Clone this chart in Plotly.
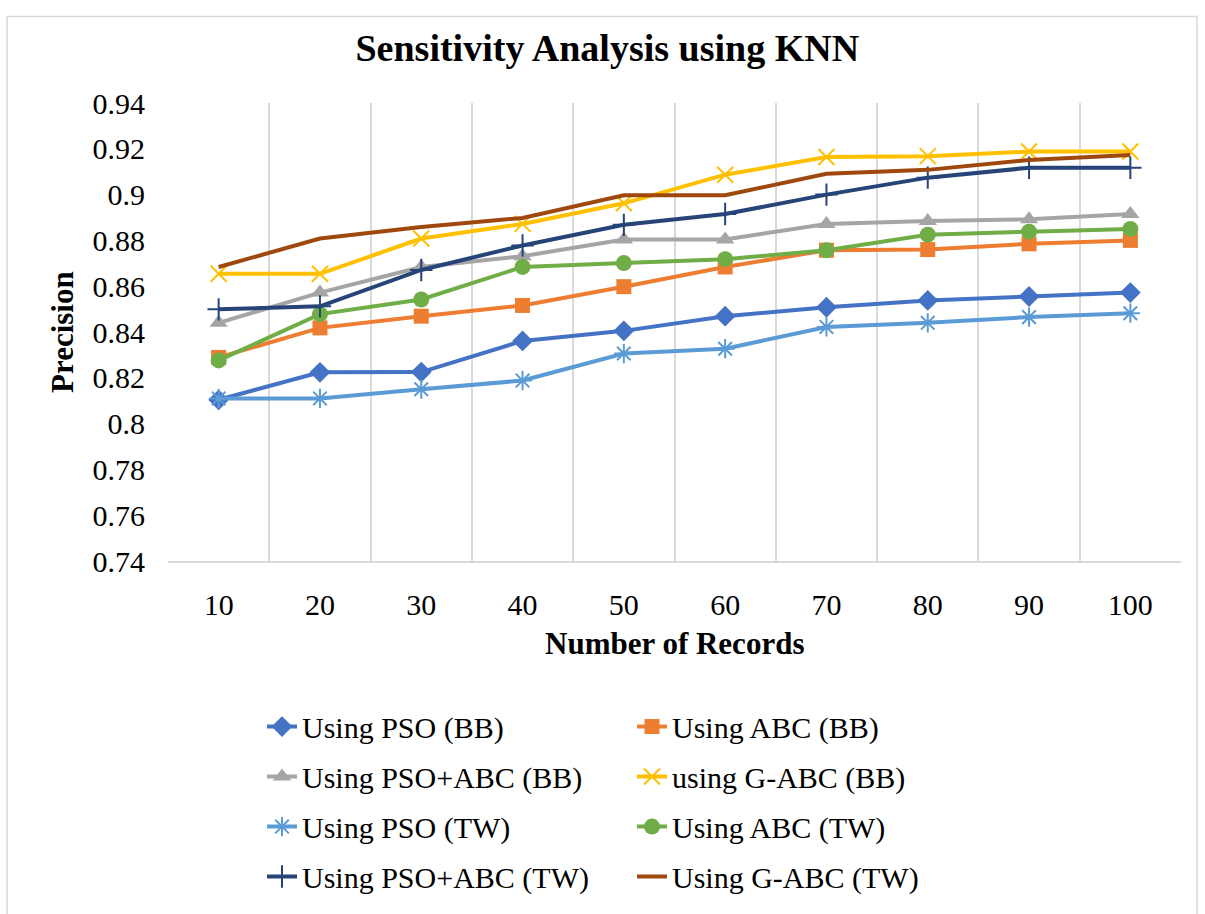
import plotly.graph_objects as go

records = ["10", "20", "30", "40", "50", "60", "70", "80", "90", "100"]

pso_bb = [0.8104, 0.8224, 0.8225, 0.8361, 0.8405, 0.8469, 0.8508, 0.8538, 0.8555, 0.8572]
abc_bb = [0.8289, 0.8418, 0.8469, 0.8516, 0.8598, 0.8684, 0.8757, 0.8760, 0.8785, 0.8800]
psoabc_bb = [0.8440, 0.8572, 0.8684, 0.8731, 0.8804, 0.8804, 0.8872, 0.8885, 0.8892, 0.8915]
gabc_bb = [0.8654, 0.8654, 0.8808, 0.8872, 0.8962, 0.9087, 0.9164, 0.9168, 0.9188, 0.9188]
pso_tw = [0.8110, 0.8110, 0.8150, 0.8188, 0.8306, 0.8327, 0.8422, 0.8440, 0.8465, 0.8482]
abc_tw = [0.8276, 0.8478, 0.8542, 0.8684, 0.8701, 0.8718, 0.8757, 0.8825, 0.8838, 0.8850]
psoabc_tw = [0.8499, 0.8512, 0.8671, 0.8778, 0.8868, 0.8915, 0.9000, 0.9074, 0.9117, 0.9117]
gabc_tw = [0.8684, 0.8808, 0.8859, 0.8898, 0.8997, 0.8997, 0.9091, 0.9108, 0.9151, 0.9173]

y_ticks = [0.74, 0.76, 0.78, 0.80, 0.82, 0.84, 0.86, 0.88, 0.90, 0.92, 0.94]
y_tick_labels = ["0.74", "0.76", "0.78", "0.8", "0.82", "0.84", "0.86", "0.88", "0.9", "0.92", "0.94"]

FONT = "Liberation Serif, Times New Roman, serif"

W, H = 1205, 914
L, R, T, B = 168, 1181, 103, 569


def px_x(p):
    return (p - L) / (R - L)


def px_y(p):
    return (B - p) / (B - T)


series = [
    ("Using PSO (BB)", pso_bb, "#4472C4", "diamond", "legend"),
    ("Using ABC (BB)", abc_bb, "#ED7D31", "square", "legend2"),
    ("Using PSO+ABC (BB)", psoabc_bb, "#A5A5A5", "triangle-up", "legend"),
    ("using G-ABC (BB)", gabc_bb, "#FFC000", "x-thin-open", "legend2"),
    ("Using PSO (TW)", pso_tw, "#5B9BD5", "asterisk-open", "legend"),
    ("Using ABC (TW)", abc_tw, "#70AD47", "circle", "legend2"),
    ("Using PSO+ABC (TW)", psoabc_tw, "#264478", "cross-thin-open", "legend"),
    ("Using G-ABC (TW)", gabc_tw, "#9E480E", None, "legend2"),
]

fig = go.Figure()
for i, (name, vals, color, sym, leg) in enumerate(series):
    if sym is None:
        fig.add_trace(go.Scatter(
            x=records, y=vals, name=name, mode="lines",
            line=dict(color=color, width=4), legend=leg, legendgroup=f"g{i}",
        ))
    else:
        is_open = sym.endswith("-open")
        marker = dict(symbol=sym, size=16, color=color,
                      line=dict(width=2 if is_open else 0, color=color))
        if sym == "square":
            marker["size"] = 15
        fig.add_trace(go.Scatter(
            x=records, y=vals, name=name, mode="lines+markers",
            line=dict(color=color, width=4), marker=marker,
            legend=leg, legendgroup=f"g{i}",
        ))

legend_common = dict(
    orientation="v", font=dict(family=FONT, size=30, color="#000000"),
    bgcolor="rgba(0,0,0,0)", borderwidth=0, tracegroupgap=8,
    xanchor="left", yanchor="top", traceorder="grouped",
)

fig.update_layout(
    width=W, height=H,
    margin=dict(l=L, r=W - R, t=T, b=H - B),
    paper_bgcolor="white", plot_bgcolor="white",
    showlegend=True,
    font=dict(family=FONT, color="#000000"),
    title=dict(text="<b>Sensitivity Analysis using KNN</b>", x=0.504, xref="container",
               xanchor="center", y=1 - 48 / H, yref="container", yanchor="middle",
               font=dict(family=FONT, size=38, color="#000000")),
    xaxis=dict(type="category", range=[-0.5, len(records) - 0.5], tickson="boundaries",
               showgrid=True, gridcolor="#D9D9D9", gridwidth=2,
               showline=True, linecolor="#D9D9D9", linewidth=2,
               ticks="", ticklabelstandoff=16,
               tickfont=dict(family=FONT, size=30, color="#000000"), zeroline=False),
    yaxis=dict(range=[0.74, 0.94], tickvals=y_ticks, ticktext=y_tick_labels,
               showgrid=False, showline=False, zeroline=False, ticks="",
               ticklabelstandoff=22,
               tickfont=dict(family=FONT, size=30, color="#000000")),
    legend=dict(x=px_x(262), y=px_y(711), **legend_common),
    legend2=dict(x=px_x(632), y=px_y(711), **legend_common),
    annotations=[
        dict(text="<b>Precision</b>", textangle=-90, xref="paper", yref="paper",
             x=px_x(62), y=0.5, xanchor="center", yanchor="middle", showarrow=False,
             font=dict(family=FONT, size=31, color="#000000")),
        dict(text="<b>Number of Records</b>", xref="paper", yref="paper",
             x=0.5, y=px_y(653), xanchor="center", yanchor="middle", showarrow=False,
             font=dict(family=FONT, size=31, color="#000000")),
    ],
    shapes=[
        dict(type="rect", xref="paper", yref="paper",
             x0=px_x(7), x1=px_x(1197), y0=px_y(930), y1=px_y(15),
             line=dict(color="#D9D9D9", width=1.5), fillcolor="rgba(0,0,0,0)", layer="below"),
    ],
)

fig.write_html("out.html")
